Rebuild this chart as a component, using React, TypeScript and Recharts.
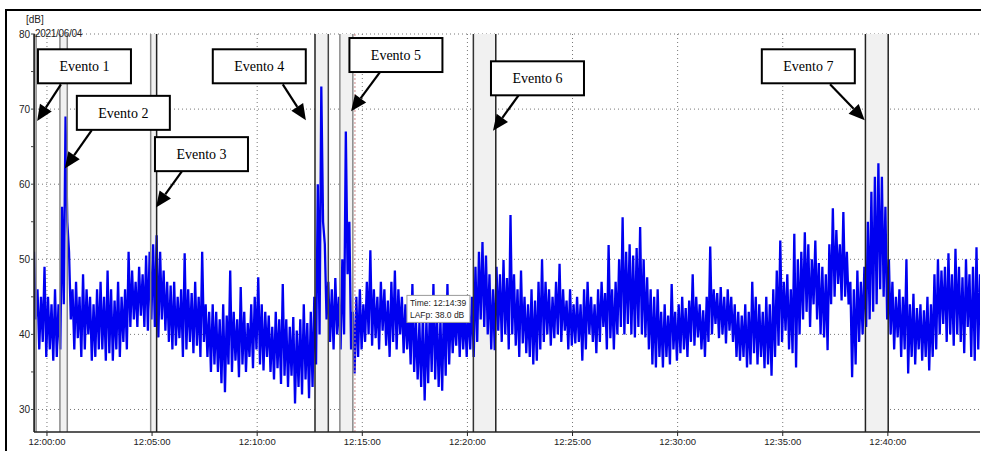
import {
  ComposedChart,
  Line,
  XAxis,
  YAxis,
  CartesianGrid,
  ReferenceArea,
  ReferenceLine,
  ReferenceDot,
} from 'recharts'

// time in seconds after 12:00:00, one bucket every 10 s starting at 11:59:20
const bucketStart = -40
const bucketStep = 10

// top and bottom of the LAFp trace in each bucket, dB
const highs = [
  51, 46, 45, 49,
  45, 44, 46, 44, 57, 69, 51, 46, 47, 45, 48, 46,
  45, 44, 46, 47, 45, 48.5, 46, 44.5, 47, 45, 46, 51,
  48.5, 47, 49, 48, 50.5, 51, 52, 53.2, 51, 48.5, 47, 46.5,
  47, 45, 46, 50.8, 46, 45.5, 47, 45, 51, 44, 43, 44,
  43, 42, 44, 42.5, 48.5, 43, 42, 46.3, 43, 41.5, 44, 45,
  47.6, 44, 43, 42.5, 41, 43, 42, 46.7, 42, 41, 42.3, 40.5,
  42, 44, 41.5, 43, 45, 60, 73, 52, 47, 46, 47.5, 45,
  50, 67, 55, 43, 45, 46, 44, 47, 51.2, 46, 45, 47,
  46, 44.5, 47, 48.5, 46, 45, 44, 43, 46.7, 42, 41.5, 43,
  42, 44, 46.7, 43, 42, 44, 46.7, 44, 43, 45, 44, 43,
  44, 45, 49, 51, 52.3, 50.5, 48, 46, 49, 48, 49.9, 47.5,
  55.9, 48, 46, 48.5, 45, 44, 46, 44.5, 47, 50, 47, 46,
  45, 47, 49.4, 46, 44.5, 46, 44, 45, 44, 46, 47, 45,
  44, 46, 47, 45.5, 51.9, 46, 47, 50, 55.6, 51, 52, 50.5,
  51.5, 54.3, 50, 47.6, 46, 45, 46, 43, 44, 42.5, 46.7, 43,
  44, 45, 43.5, 44.5, 48, 45, 44, 43.2, 45, 51.7, 46, 45.5,
  46.3, 45, 46, 45, 44, 43, 42.5, 44, 43, 47, 45, 44,
  43, 45, 44, 46, 48.5, 52.5, 47, 48, 46, 53.4, 50, 51,
  53.6, 52, 50, 52.5, 49.5, 49, 48, 52, 56.8, 53.9, 52, 56.3,
  51, 47, 46, 48.5, 47, 49, 55, 59, 61, 62.8, 61, 57,
  50, 47, 45, 46, 45, 50, 44, 45.4, 43.5, 44, 43.2, 45,
  44, 48, 50, 48.5, 49, 50.8, 48, 51.4, 49, 47.6, 50, 48,
  49, 51.6, 48,
]

const lows = [
  42, 38, 39, 37,
  38, 36.5, 37, 38, 44, 55, 42, 38, 39.5, 37, 38, 40,
  36.5, 37, 38, 38, 36.5, 37.5, 36.5, 38, 37, 39, 38, 41,
  42, 41, 42.5, 41, 40.5, 42, 41, 39.6, 42, 40.5, 39, 38,
  38.5, 39.5, 37, 38, 39, 37.5, 38.5, 37, 39, 37, 35, 36,
  35, 33.5, 32.3, 36, 35, 36.5, 34.3, 36, 35, 37, 35.5, 38,
  36, 35.2, 37, 35, 34, 35.5, 33.4, 34.5, 33, 34.5, 30.8, 33,
  32, 34, 31.5, 33, 36, 40, 55, 42, 39, 38, 40, 38,
  40, 48, 38, 34.8, 37, 38, 39, 40, 38.5, 39.5, 38, 40.5,
  38.5, 37, 39, 38, 40, 37.5, 38, 36, 35, 34, 33, 31.2,
  33.5, 35, 34, 33, 32.5, 34.5, 36, 37.5, 38.5, 37, 38, 37,
  38, 37, 39, 42, 41, 40, 38, 37.9, 40.5, 39, 40, 38,
  40, 38.5, 37, 38.8, 37.5, 37, 36, 36.5, 38, 39, 40, 38.5,
  39.5, 40, 39, 40.5, 38, 38.5, 38.8, 39, 36.5, 38, 40, 39,
  37.5, 39, 41, 38, 39.5, 38, 40, 41, 40, 41.4, 40, 39.6,
  41, 40, 39.6, 38, 36, 35.6, 37, 35.6, 37, 36, 38, 36.5,
  37.5, 38, 37, 39, 38.5, 39.6, 38, 37, 39, 40, 41.4, 39.5,
  40, 38.8, 40.5, 39, 37, 36.5, 37, 35.6, 36, 37.5, 36, 37,
  35.5, 36, 34.5, 37, 38.5, 39, 40.5, 38, 37.5, 35.6, 40, 42,
  43, 41, 44, 42, 40, 39.6, 37.9, 44, 45, 46.7, 44.5, 45,
  44, 34.3, 36, 39, 40, 41, 42, 43, 44, 46, 45, 42,
  40, 38, 39.6, 37, 38, 34.8, 37, 36, 38, 36.5, 37, 35.2,
  37, 38, 40, 41.4, 39, 40, 38.5, 40, 39, 37.5, 41, 37,
  36.5, 38, 40,
]

const xTicks = [0, 300, 600, 900, 1200, 1500, 1800, 2100, 2400]
const xTickLabels = [
  '12:00:00', '12:05:00', '12:10:00', '12:15:00', '12:20:00',
  '12:25:00', '12:30:00', '12:35:00', '12:40:00',
]
const yTicks = [30, 35, 40, 45, 50, 55, 60, 65, 70, 75, 80]
const yGrid = [30, 40, 50, 60, 70, 80]

// events: marked intervals, callout box and arrow
const events = ['Evento 1', 'Evento 2', 'Evento 3', 'Evento 4', 'Evento 5', 'Evento 6', 'Evento 7']
const eventStart = [-37, 37, 296, 765, 836, 1217, 2336]
const eventEnd = [-31, 58, 313, 803, 873, 1281, 2401]
const edgeLeft = ['#111', '#888', '#888', '#222', '#888', '#333', '#222']
const edgeRight = ['#888', '#888', '#222', '#444', '#888', '#222', '#222']
const boxT = [107, 218, 441, 606, 996, 1400, 2173]
const boxDb = [75.7, 69.5, 64, 75.7, 77.2, 74.1, 75.7]
const arrowFromT = [40, 128, 385, 673, 950, 1347, 2235]
const arrowFromDb = [73.3, 67.2, 61.7, 73.3, 74.9, 71.9, 73.3]
const arrowToT = [-28, 51, 311, 739, 868, 1273, 2334]
const arrowToDb = [68.4, 62.1, 56.9, 68.5, 69.7, 67.1, 68.5]

// cursor readout
const cursorT = 879
const cursorDb = 38.0
const cursorLabel = ['Time: 12:14:39', 'LAFp: 38.0 dB']

const data = highs.flatMap((h, i) => {
  const t = bucketStart + i * bucketStep
  return [
    { t: t + 3, v: h },
    { t: t + 8, v: lows[i] },
  ]
})

const tickFont = { fill: '#222', fontSize: 9.5, fontFamily: 'Liberation Sans, Arial, sans-serif' }

function Arrow(props: any) {
  const { x1, y1, x2, y2 } = props
  const dx = x2 - x1
  const dy = y2 - y1
  const len = Math.hypot(dx, dy) || 1
  const ux = dx / len
  const uy = dy / len
  const head = 16
  const half = 7
  const bx = x2 - ux * head
  const by = y2 - uy * head
  const pts = `${x2},${y2} ${bx - uy * half},${by + ux * half} ${bx + uy * half},${by - ux * half}`
  return (
    <g>
      <line x1={x1} y1={y1} x2={bx} y2={by} stroke="#000" strokeWidth={2.2} />
      <polygon points={pts} fill="#000" />
    </g>
  )
}

function Callout({ cx, cy, text }: { cx: number; cy: number; text: string }) {
  const w = 93
  const h = 34
  return (
    <g>
      <rect x={cx - w / 2} y={cy - h / 2} width={w} height={h} fill="#fff" stroke="#000" strokeWidth={2} />
      <text
        x={cx}
        y={cy + 5}
        textAnchor="middle"
        fontFamily="Liberation Serif, 'Times New Roman', serif"
        fontSize={14}
        fill="#000"
      >
        {text}
      </text>
    </g>
  )
}

function Readout({ cx, cy }: { cx: number; cy: number }) {
  const x = cx + 52
  const y = cy - 54
  return (
    <g>
      <rect x={x} y={y} width={63} height={27} fill="#fff" stroke="#9a9a9a" strokeWidth={1} />
      <text x={x + 3} y={y + 11} fontSize={8.5} fontFamily="Liberation Sans, Arial, sans-serif" fill="#222">
        {cursorLabel[0]}
      </text>
      <text x={x + 3} y={y + 23} fontSize={8.5} fontFamily="Liberation Sans, Arial, sans-serif" fill="#222">
        {cursorLabel[1]}
      </text>
    </g>
  )
}

export default function App() {
  return (
    <div style={{ position: 'absolute', left: 0, top: 0, width: 981, height: 451, background: '#fff' }}>
      <div
        style={{
          position: 'absolute',
          left: 5,
          top: 9,
          width: 976,
          height: 442,
          boxSizing: 'border-box',
          borderLeft: '2px solid #000',
          borderTop: '2px solid #000',
        }}
      />
      <ComposedChart
        width={981}
        height={451}
        data={data}
        margin={{ top: 34, right: 1, bottom: 0, left: 0 }}
        style={{ position: 'absolute', left: 0, top: 0 }}
      >
        <CartesianGrid
          stroke="#777"
          strokeDasharray="1 3"
          horizontalValues={yGrid}
          verticalValues={xTicks}
        />
        {events.map((name, i) => (
          <ReferenceArea
            key={`area-${name}`}
            x1={eventStart[i]}
            x2={eventEnd[i]}
            fill="#f1f1f1"
            fillOpacity={1}
            stroke="none"
            ifOverflow="hidden"
          />
        ))}
        <XAxis
          type="number"
          dataKey="t"
          domain={[-37, 2663]}
          allowDataOverflow
          ticks={xTicks}
          tickFormatter={(v: number) => xTickLabels[xTicks.indexOf(v)] ?? ''}
          height={19}
          tickSize={4}
          tickMargin={2}
          tick={tickFont}
          axisLine={{ stroke: '#222', strokeWidth: 1.5 }}
          tickLine={{ stroke: '#222' }}
          interval={0}
        />
        <YAxis
          type="number"
          domain={[27, 80]}
          allowDataOverflow
          ticks={yTicks}
          tickFormatter={(v: number) => (v % 10 === 0 ? String(v) : '')}
          width={34}
          tickSize={3}
          tickMargin={1}
          tick={{ ...tickFont, fontSize: 10 }}
          axisLine={{ stroke: '#222', strokeWidth: 1.5 }}
          tickLine={{ stroke: '#444' }}
          interval={0}
        />
        <Line
          type="linear"
          dataKey="v"
          stroke="#0000f0"
          strokeWidth={2.3}
          strokeLinejoin="miter"
          dot={false}
          activeDot={false}
          isAnimationActive={false}
        />
        {events.map((name, i) => (
          <ReferenceLine key={`l-${name}`} x={eventStart[i]} stroke={edgeLeft[i]} strokeWidth={1.5} ifOverflow="hidden" />
        ))}
        {events.map((name, i) => (
          <ReferenceLine key={`r-${name}`} x={eventEnd[i]} stroke={edgeRight[i]} strokeWidth={1.5} ifOverflow="hidden" />
        ))}
        <ReferenceLine x={cursorT} stroke="#d08a8a" strokeDasharray="2 2" strokeWidth={1} />
        {events.map((name, i) => (
          <ReferenceLine
            key={`a-${name}`}
            segment={[
              { x: arrowFromT[i], y: arrowFromDb[i] },
              { x: arrowToT[i], y: arrowToDb[i] },
            ]}
            ifOverflow="visible"
            shape={(p: any) => <Arrow {...p} />}
          />
        ))}
        {events.map((name, i) => (
          <ReferenceDot
            key={`b-${name}`}
            x={boxT[i]}
            y={boxDb[i]}
            r={0}
            ifOverflow="visible"
            shape={(p: any) => <Callout cx={p.cx} cy={p.cy} text={name} />}
          />
        ))}
        <ReferenceDot
          x={cursorT}
          y={cursorDb}
          r={0}
          ifOverflow="visible"
          shape={(p: any) => <Readout cx={p.cx} cy={p.cy} />}
        />
      </ComposedChart>
      <div
        style={{
          position: 'absolute',
          left: 26,
          top: 15,
          fontSize: 10,
          lineHeight: '10px',
          fontFamily: 'Liberation Sans, Arial, sans-serif',
          color: '#222',
        }}
      >
        [dB]
      </div>
      <div
        style={{
          position: 'absolute',
          left: 35,
          top: 29,
          fontSize: 10,
          lineHeight: '10px',
          fontFamily: 'Liberation Sans, Arial, sans-serif',
          color: '#222',
          letterSpacing: -0.3,
        }}
      >
        2021/06/04
      </div>
    </div>
  )
}
